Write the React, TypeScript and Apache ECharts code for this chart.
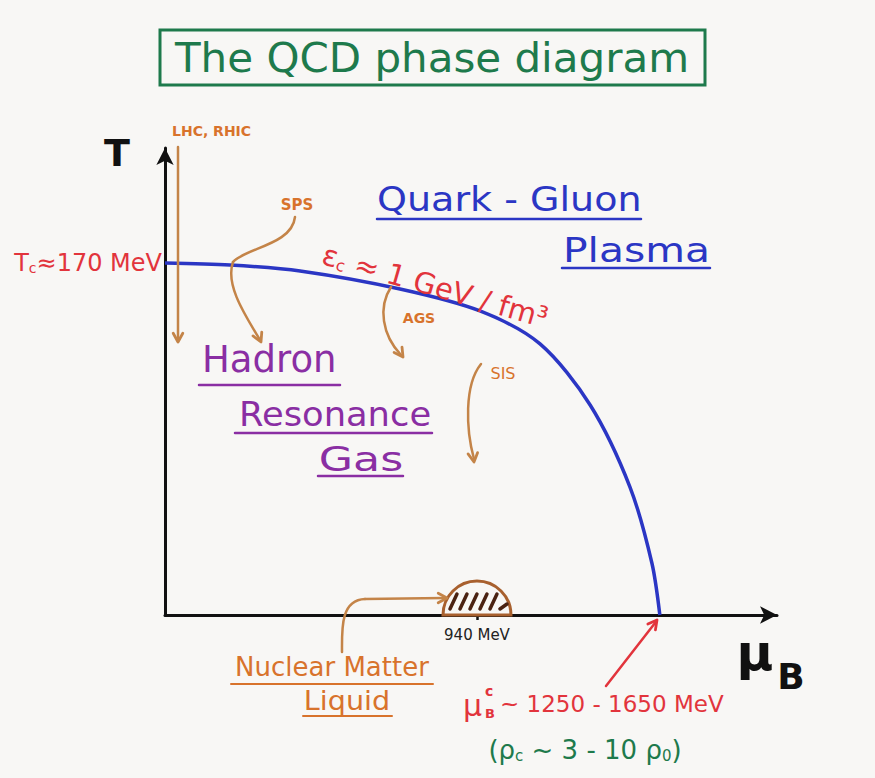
import React, { useEffect, useRef } from "react";
import * as echarts from "echarts";

// ---- data ----
const boundaryMuB = [0, 196, 407, 708, 949, 1130, 1281, 1401, 1467, 1491];
const boundaryT = [170, 169.0, 166.1, 157.4, 146.8, 130.9, 101.4, 61.8, 25.1, 0];
const T_C = 170;
const MU_NUCLEAR = 940;
const X_MAX = 1844;
const Y_MAX = 225.5;
const xTickLabels = ["940 MeV"];

const FONT = "DejaVu Sans";
const GREEN = "#1e7a4c";
const BLUE = "#2b36c4";
const RED = "#e2343c";
const ORANGE = "#d8732c";
const TAN = "#c48448";
const PURPLE = "#8a2ea3";
const BG = "#f8f7f5";

function txt(x: number, y: number, t: string, fontSize: number, fill: string, extra: any = {}) {
  return {
    type: "text",
    x,
    y,
    z: 20,
    rotation: extra.rotation ?? 0,
    scaleX: extra.sx ?? 1,
    style: {
      text: t,
      fontSize,
      fontFamily: FONT,
      fontWeight: extra.weight ?? "normal",
      fill,
      textAlign: extra.align ?? "left",
      textVerticalAlign: extra.va ?? "middle",
      rich: extra.rich,
    },
  };
}
function ln(x1: number, y1: number, x2: number, y2: number, stroke: string, lineWidth = 2.5) {
  return { type: "line", z: 15, shape: { x1, y1, x2, y2 }, style: { stroke, lineWidth, lineCap: "round" } };
}
function bez(pts: number[], stroke: string, lineWidth = 2.5) {
  const [x1, y1, cpx1, cpy1, cpx2, cpy2, x2, y2] = pts;
  return {
    type: "bezierCurve",
    z: 15,
    shape: { x1, y1, cpx1, cpy1, cpx2, cpy2, x2, y2 },
    style: { stroke, lineWidth, fill: "none", lineCap: "round" },
  };
}
function head(tx: number, ty: number, fx: number, fy: number, stroke: string, size = 10, lineWidth = 2.8) {
  const ang = Math.atan2(ty - fy, tx - fx);
  const a1 = ang + Math.PI - 0.5;
  const a2 = ang + Math.PI + 0.5;
  return {
    type: "polyline",
    z: 15,
    shape: {
      points: [
        [tx + size * Math.cos(a1), ty + size * Math.sin(a1)],
        [tx, ty],
        [tx + size * Math.cos(a2), ty + size * Math.sin(a2)],
      ],
    },
    style: { stroke, lineWidth, fill: "none", lineCap: "round", lineJoin: "round" },
  };
}

export default function App() {
  const ref = useRef<HTMLDivElement>(null);
  useEffect(() => {
    if (!ref.current) return;
    const chart = echarts.init(ref.current, undefined, { renderer: "svg" });
    const curve = boundaryMuB.map((m, i) => [m, boundaryT[i]]);

    const graphic: any[] = [
      // title
      { type: "rect", z: 10, shape: { x: 160, y: 30, width: 545, height: 55 }, style: { fill: "none", stroke: GREEN, lineWidth: 3 } },
      txt(432, 58, "The QCD phase diagram", 40, GREEN, { align: "center", sx: 1.05 }),
      // axis names
      txt(117, 153, "T", 38, "#111", { align: "center", weight: "bold" }),
      txt(755, 653, "μ", 50, "#111", { align: "center", weight: "bold" }),
      txt(791, 676, "B", 36, "#111", { align: "center", weight: "bold" }),
      // LHC, RHIC
      txt(172, 131, "LHC, RHIC", 14, ORANGE, { weight: "bold" }),
      ln(178, 147, 178, 341, TAN),
      head(178, 342, 178, 300, TAN),
      // SPS
      txt(297, 205, "SPS", 15, ORANGE, { align: "center", weight: "bold" }),
      bez([295, 217, 292, 245, 245, 248, 233, 262], TAN),
      bez([233, 262, 225, 285, 245, 315, 260, 340], TAN),
      head(261, 342, 252, 322, TAN),
      // AGS
      txt(419, 318, "AGS", 14, ORANGE, { align: "center", weight: "bold" }),
      bez([391, 287, 378, 307, 382, 335, 401, 355], TAN),
      head(403, 357, 390, 338, TAN),
      // SIS
      txt(503, 373, "SIS", 16, ORANGE, { align: "center" }),
      bez([481, 364, 464, 385, 466, 430, 474, 459], TAN),
      head(474, 462, 471, 440, TAN),
      // energy density along the curve
      txt(323, 254, "{a|ε}{s|c}{a| ≈ 1 GeV / fm³}", 29, RED, {
        rotation: -0.28,
        rich: {
          a: { fontSize: 29, fontFamily: FONT, fill: RED },
          s: { fontSize: 16, fontFamily: FONT, fill: RED, verticalAlign: "bottom" },
        },
      }),
      // Quark-Gluon Plasma
      txt(377, 200, "Quark - Gluon", 34, BLUE, { sx: 1.12 }),
      ln(377, 219, 641, 219, BLUE, 2.5),
      txt(563, 250, "Plasma", 34, BLUE, { sx: 1.2 }),
      ln(562, 268, 710, 268, BLUE, 2.5),
      // Hadron Resonance Gas
      txt(202, 359, "Hadron", 37, PURPLE),
      ln(199, 385, 340, 385, PURPLE, 2.5),
      txt(239, 414, "Resonance", 33, PURPLE, { sx: 1.07 }),
      ln(235, 433, 432, 433, PURPLE, 2.5),
      txt(361, 459, "Gas", 34, PURPLE, { align: "center", sx: 1.3 }),
      ln(318, 476, 403, 476, PURPLE, 2.5),
      // Nuclear Matter Liquid
      txt(332, 667, "Nuclear Matter", 26, ORANGE, { align: "center" }),
      ln(231, 684, 433, 684, ORANGE, 2),
      txt(347, 701, "Liquid", 26, ORANGE, { align: "center", sx: 1.1 }),
      ln(303, 716, 392, 716, ORANGE, 2),
      bez([342, 652, 342, 630, 340, 600, 365, 599], TAN),
      ln(365, 599, 444, 598, TAN),
      head(447, 598, 430, 598, TAN),
      // critical chemical potential
      txt(463, 705, "μ", 30, RED),
      txt(485, 691, "c", 14, RED, { weight: "bold" }),
      txt(485, 713, "B", 13, RED, { weight: "bold" }),
      txt(500, 704, "~ 1250 - 1650 MeV", 23, RED),
      ln(606, 686, 655, 623, RED, 2.5),
      head(657, 620, 606, 686, RED),
      txt(585, 750, "{a|(ρ}{s|c}{a| ~ 3 - 10 ρ}{s|0}{a|)}", 26, GREEN, {
        align: "center",
        rich: {
          a: { fontSize: 26, fontFamily: FONT, fill: GREEN },
          s: { fontSize: 15, fontFamily: FONT, fill: GREEN, verticalAlign: "bottom" },
        },
      }),
    ];

    chart.setOption({
      animation: false,
      backgroundColor: BG,
      grid: { left: 165, top: 148, width: 612, height: 467 },
      xAxis: {
        type: "value",
        min: 0,
        max: X_MAX,
        splitLine: { show: false },
        axisLine: {
          show: true,
          symbol: ["none", "arrow"],
          symbolSize: [13, 17],
          lineStyle: { color: "#111", width: 3 },
        },
        axisTick: { show: true, customValues: [MU_NUCLEAR], length: 5, lineStyle: { color: "#111", width: 2.5 } },
        axisLabel: {
          customValues: [MU_NUCLEAR],
          formatter: () => xTickLabels[0],
          margin: 12,
          fontSize: 15,
          fontFamily: FONT,
          color: "#222",
        },
      },
      yAxis: {
        type: "value",
        min: 0,
        max: Y_MAX,
        splitLine: { show: false },
        axisLine: {
          show: true,
          symbol: ["none", "arrow"],
          symbolSize: [13, 17],
          lineStyle: { color: "#111", width: 3 },
        },
        axisTick: { show: false },
        axisLabel: {
          customValues: [T_C],
          margin: 3,
          formatter: (v: number) => `{a|T}{s|c}{a|≈${v} MeV}`,
          rich: {
            a: { fontSize: 24, fontFamily: FONT, color: RED },
            s: { fontSize: 14, fontFamily: FONT, color: RED, verticalAlign: "bottom" },
          },
        },
      },
      series: [
        {
          type: "line",
          name: "phase boundary",
          data: curve,
          smooth: 0.3,
          symbol: "none",
          z: 5,
          lineStyle: { color: BLUE, width: 3.5 },
        },
        {
          type: "custom",
          name: "nuclear matter",
          coordinateSystem: "cartesian2d",
          data: [[MU_NUCLEAR, 0]],
          z: 6,
          renderItem: (_p: any, api: any) => {
            const c = api.coord([api.value(0), api.value(1)]);
            const r = 34;
            const children: any[] = [
              {
                type: "sector",
                shape: { cx: c[0], cy: c[1], r, r0: 0, startAngle: Math.PI, endAngle: 2 * Math.PI },
                style: { fill: "rgba(0,0,0,0)", stroke: "#a8602e", lineWidth: 3 },
              },
            ];
            for (let i = 0; i < 6; i++) {
              const x0 = c[0] - 27 + i * 10;
              const xt = x0 + 7;
              const h = Math.sqrt(Math.max(0, r * r - (xt - c[0]) * (xt - c[0])));
              const top = Math.min(21, h - 5);
              children.push({
                type: "line",
                shape: { x1: x0, y1: c[1] - 6, x2: xt, y2: c[1] - top },
                style: { stroke: "#4a2212", lineWidth: 3.5, lineCap: "round" },
              });
            }
            return { type: "group", children };
          },
        },
      ],
      graphic,
    });
    return () => chart.dispose();
  }, []);

  return (
    <div
      ref={ref}
      style={{ position: "absolute", left: 0, top: 0, width: 875, height: 778, background: BG }}
    />
  );
}
